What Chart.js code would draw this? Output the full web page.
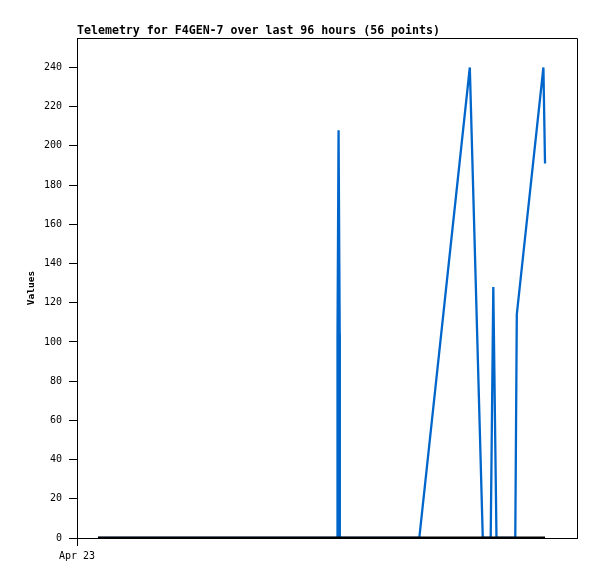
<!DOCTYPE html>
<html><head><meta charset="utf-8">
<script src="https://cdn.jsdelivr.net/npm/chart.js@4/dist/chart.umd.min.js"></script>
<style>html,body{margin:0;padding:0;background:#fff;}canvas{display:block}</style>
</head><body>
<canvas id="c" width="597" height="579"></canvas>
<script>
// Hours since start of the 96-hour window (Apr 23 00:00)
const hoursSinceStart = [
  4.03, 5.6, 7.2, 8.8, 10.4, 12.0, 13.6, 15.2, 16.8, 18.4,
  20.0, 21.6, 23.2, 24.8, 26.4, 28.0, 29.6, 31.2, 32.8, 34.4,
  36.0, 37.6, 39.2, 40.8, 42.4, 44.0, 45.6, 47.2, 48.8,
  50.0, 50.02, 50.22, 50.44, 50.46,
  52.0, 53.9, 55.8, 57.7, 59.6, 61.5, 63.4,
  65.72, 75.42, 77.91, 78.7,
  79.43, 79.93, 80.54,
  81.2, 81.9, 82.6, 83.4,
  84.15, 84.44, 89.55, 89.86
];
const values = [
  0, 0, 0, 0, 0, 0, 0, 0, 0, 0,
  0, 0, 0, 0, 0, 0, 0, 0, 0, 0,
  0, 0, 0, 0, 0, 0, 0, 0, 0,
  0, 104, 208, 104, 0,
  0, 0, 0, 0, 0, 0, 0,
  0, 240, 0, 0,
  0, 128, 0,
  0, 0, 0, 0,
  0, 114, 240, 191
];
const baselineHours = [4.03, 89.86];
const baselineValues = [0, 0];
const yTickValues = [0, 20, 40, 60, 80, 100, 120, 140, 160, 180, 200, 220, 240];
const xTickHours = [0];
const xTickLabels = ['Apr 23'];
const chartTitle = 'Telemetry for F4GEN-7 over last 96 hours (56 points)';
const yAxisTitle = 'Values';

const mono = "'DejaVu Sans Mono', 'Liberation Mono', monospace";

const framePlugin = {
  id: 'frame',
  afterLayout(chart) {
    if (chart.titleBlock) chart.titleBlock.left = 77;
  },
  afterDraw(chart) {
    const {ctx, chartArea: a} = chart;
    ctx.save();
    ctx.strokeStyle = '#000';
    ctx.lineWidth = 1;
    ctx.beginPath();
    const t = Math.round(a.top) + 0.5, r = Math.round(a.right) + 0.5;
    ctx.moveTo(Math.round(a.left), t);
    ctx.lineTo(r, t);
    ctx.lineTo(r, Math.round(a.bottom) + 1);
    ctx.stroke();
    ctx.restore();
  }
};

new Chart(document.getElementById('c'), {
  type: 'line',
  data: {
    datasets: [
      {
        label: 'baseline',
        data: baselineHours.map((h, i) => ({x: h, y: baselineValues[i]})),
        borderColor: '#000000',
        borderWidth: 3,
        pointRadius: 0,
        borderCapStyle: 'butt',
        order: 0
      },
      {
        label: 'F4GEN-7',
        data: hoursSinceStart.map((h, i) => ({x: h, y: values[i]})),
        borderColor: '#0066cc',
        borderWidth: 2.3,
        pointRadius: 0,
        tension: 0,
        order: 1
      }
    ]
  },
  options: {
    responsive: false,
    animation: false,
    devicePixelRatio: 1,
    layout: {padding: {left: 0, right: 20, top: 0, bottom: 0}},
    plugins: {
      legend: {display: false},
      tooltip: {enabled: false},
      title: {
        display: true,
        text: chartTitle,
        align: 'start',
        color: '#000',
        font: {family: mono, size: 11.6, weight: 'bold', lineHeight: 1.1},
        padding: {top: 25, bottom: 0.24}
      }
    },
    scales: {
      x: {
        type: 'linear',
        min: 0,
        max: 96,
        afterBuildTicks: s => { s.ticks = xTickHours.map(v => ({value: v})); },
        afterFit: s => { s.height = 41; },
        ticks: {
          autoSkip: false,
          maxRotation: 0,
          color: '#000',
          padding: 4,
          font: {family: mono, size: 10},
          callback: (v) => { const i = xTickHours.indexOf(v); return i >= 0 ? xTickLabels[i] : ''; }
        },
        grid: {display: true, drawOnChartArea: false, drawTicks: true, tickLength: 8, color: '#000', lineWidth: 1},
        border: {display: true, color: '#000', width: 1}
      },
      y: {
        type: 'linear',
        min: 0,
        max: 255,
        afterBuildTicks: s => { s.ticks = yTickValues.map(v => ({value: v})); },
        afterFit: s => { s.width = 77; },
        ticks: {
          color: '#000',
          padding: 7,
          font: {family: mono, size: 10}
        },
        grid: {display: true, drawOnChartArea: false, drawTicks: true, tickLength: 8, color: '#000', lineWidth: 1},
        border: {display: true, color: '#000', width: 1},
        title: {
          display: true,
          text: yAxisTitle,
          color: '#000',
          font: {family: mono, size: 9.5, weight: 'bold', lineHeight: 1.2},
          padding: {top: 25.5, bottom: 0}
        }
      }
    }
  },
  plugins: [framePlugin]
});
</script>
</body></html>
